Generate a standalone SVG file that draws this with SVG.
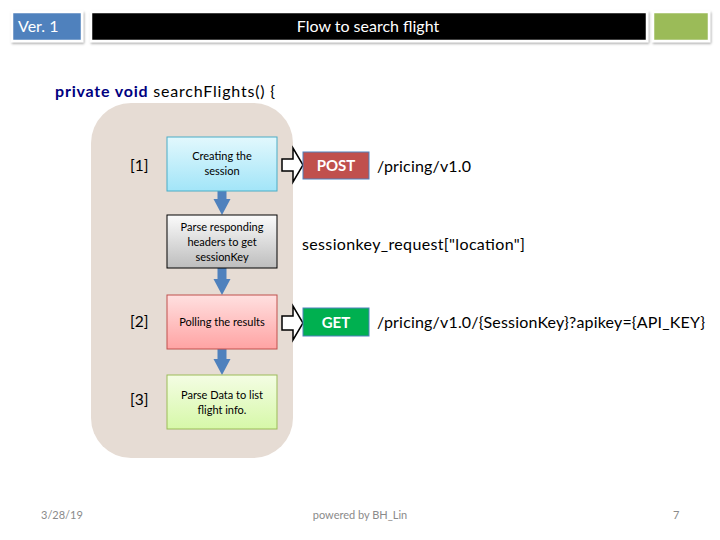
<svg xmlns="http://www.w3.org/2000/svg" width="720" height="540" viewBox="0 0 720 540">
<style>
text{font-family:Lato,"Open Sans","Liberation Sans",sans-serif}
.hdr{stroke:#fff;stroke-width:2.5}
.ht{fill:#fff;font-size:16px}
.nt{font-size:11px;fill:#000;text-anchor:middle}
.lbl{font-size:15.5px;fill:#000}
.big{font-size:16px;fill:#000}
.foot{font-size:11px;fill:#8a8a8a}
.vert{fill:#4f81bd}
.hol{fill:#fff;stroke:#000;stroke-width:1.5}
.btn{stroke:#4f81bd;stroke-width:1}
.bt{fill:#fff;font-size:15px;font-weight:bold;text-anchor:middle}
</style>
<defs>
<filter id="sh" x="-10%" y="-20%" width="130%" height="150%">
<feDropShadow dx="1" dy="1.5" stdDeviation="1.2" flood-color="#000" flood-opacity="0.35"/>
</filter>
<linearGradient id="g1" x1="0" y1="0" x2="0" y2="1"><stop offset="0" stop-color="#e2f8fd"/><stop offset="1" stop-color="#a2e5f8"/></linearGradient>
<linearGradient id="g2" x1="0" y1="0" x2="0" y2="1"><stop offset="0" stop-color="#fbfbfb"/><stop offset="1" stop-color="#bdbdbd"/></linearGradient>
<linearGradient id="g3" x1="0" y1="0" x2="0" y2="1"><stop offset="0" stop-color="#ffe0e0"/><stop offset="1" stop-color="#ffa3a3"/></linearGradient>
<linearGradient id="g4" x1="0" y1="0" x2="0" y2="1"><stop offset="0" stop-color="#f4fde4"/><stop offset="1" stop-color="#d6f8a8"/></linearGradient>
</defs>
<rect width="720" height="540" fill="#fff"/>

<g id="header">
<rect x="12" y="12" width="70" height="29" fill="#4f81bd" class="hdr" filter="url(#sh)"/>
<text x="18" y="32" class="ht" font-size="15">Ver. 1</text>
<rect x="91" y="12" width="556" height="29" fill="#000" class="hdr" filter="url(#sh)"/>
<text x="368" y="32" class="ht" text-anchor="middle">Flow to search flight</text>
<rect x="653" y="12" width="56" height="29" fill="#9bbb59" class="hdr" filter="url(#sh)"/>
</g>

<text x="55" y="97" class="big" font-size="17" textLength="220"><tspan fill="#000080" font-weight="bold">private void</tspan> searchFlights() {</text>

<rect id="container" x="91" y="103" width="202" height="355" rx="40" fill="#e6dcd4"/>

<g id="connectors">
<path class="vert" d="M217.5,191 h9 v8 h4 l-8.5,16 l-8.5,-16 h4 z"/>
<path class="vert" d="M217.5,268 h9 v11 h4 l-8.5,16 l-8.5,-16 h4 z"/>
<path class="vert" d="M217.5,349 h9 v10 h4 l-8.5,16 l-8.5,-16 h4 z"/>
<path class="hol" d="M282,159 h11 v-11 l10,17 l-10,17 v-11 h-11 z"/>
<path class="hol" d="M282,316 h11 v-10 l10,17 l-10,17 v-10 h-11 z"/>
</g>

<g id="n1">
<rect x="167" y="137" width="110" height="54" fill="url(#g1)" stroke="#4bacc6" stroke-width="1"/>
<text class="nt" x="222" y="160">Creating the</text>
<text class="nt" x="222" y="175">session</text>
</g>
<g id="n2">
<rect x="167" y="215" width="110" height="53" fill="url(#g2)" stroke="#000" stroke-width="1"/>
<text class="nt" x="222" y="231">Parse responding</text>
<text class="nt" x="222" y="246">headers to get</text>
<text class="nt" x="222" y="261">sessionKey</text>
</g>
<g id="n3">
<rect x="167" y="295" width="110" height="54" fill="url(#g3)" stroke="#c0504d" stroke-width="1"/>
<text class="nt" x="222" y="326">Polling the results</text>
</g>
<g id="n4">
<rect x="167" y="375" width="110" height="54" fill="url(#g4)" stroke="#9bbb59" stroke-width="1"/>
<text class="nt" x="222" y="399">Parse Data to list</text>
<text class="nt" x="222" y="414">flight info.</text>
</g>

<text x="130" y="171" class="lbl">[1]</text>
<text x="130" y="327" class="lbl">[2]</text>
<text x="130" y="405" class="lbl">[3]</text>

<g id="post">
<rect x="303" y="152" width="66" height="27" fill="#c0504d" class="btn"/>
<text x="336" y="171" class="bt">POST</text>
</g>
<g id="get">
<rect x="303" y="308" width="66" height="28" fill="#00b050" class="btn"/>
<text x="336" y="328" class="bt">GET</text>
</g>

<text x="377" y="172" class="big" textLength="94">/pricing/v1.0</text>
<text x="302" y="250" class="big" textLength="223">sessionkey_request["location"]</text>
<text x="377" y="328" class="big" textLength="328">/pricing/v1.0/{SessionKey}?apikey={API_KEY}</text>

<text x="41" y="519" class="foot">3/28/19</text>
<text x="360" y="519" class="foot" text-anchor="middle">powered by BH_Lin</text>
<text x="673" y="519" class="foot">7</text>
</svg>
